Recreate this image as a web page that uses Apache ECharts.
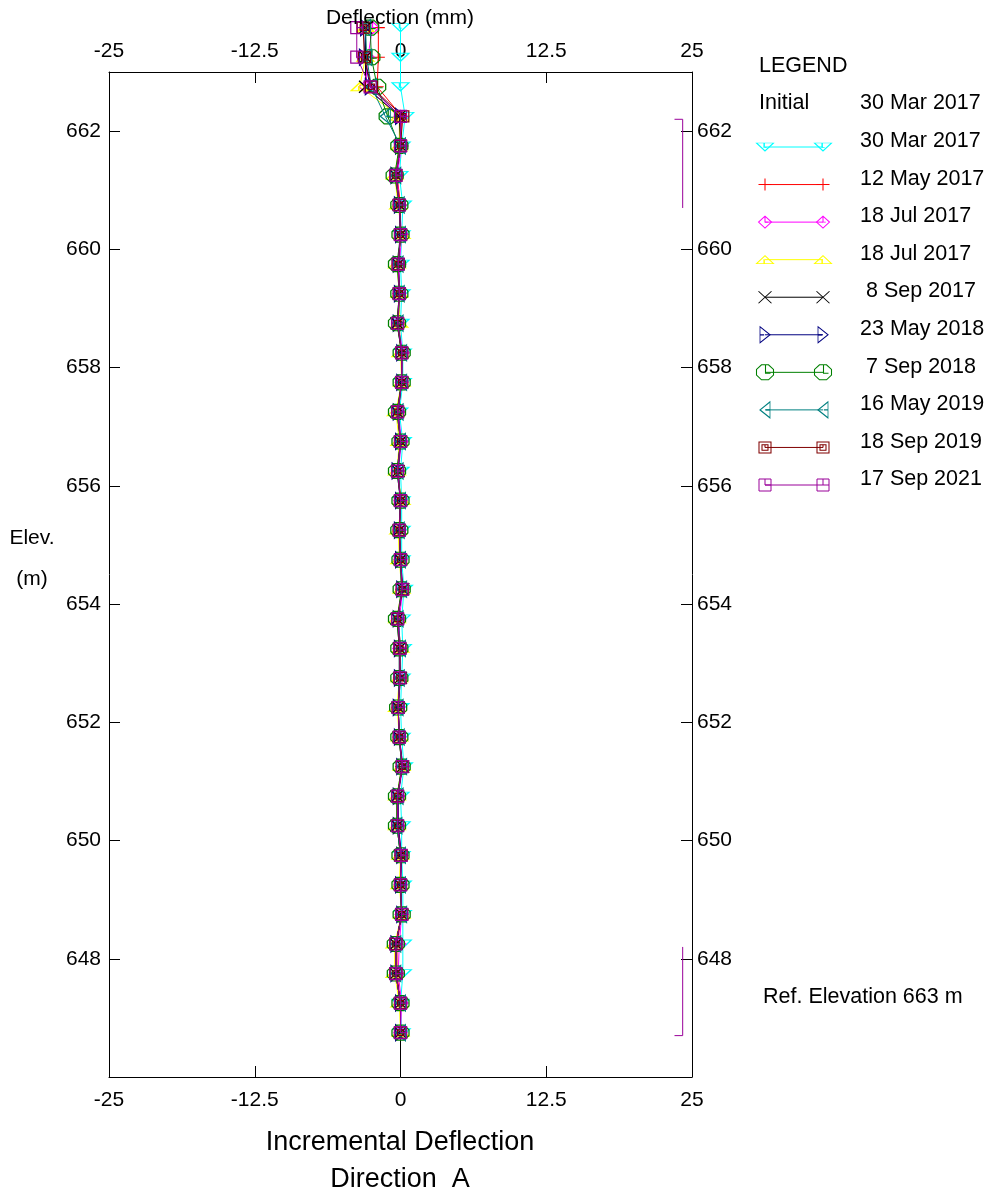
<!DOCTYPE html>
<html>
<head>
<meta charset="utf-8">
<title>Incremental Deflection - Direction A</title>
<script src="https://cdn.jsdelivr.net/npm/echarts@6/dist/echarts.min.js"></script>
<style>
  html, body { margin: 0; padding: 0; background: #fff; }
  #chart { width: 985px; height: 1198px; }
</style>
</head>
<body>
<div id="chart"></div>
<script>
// reading elevations (m), top to bottom
const elevations = [663.75, 663.25, 662.75, 662.25, 661.75, 661.25, 660.75, 660.25, 659.75, 659.25,
  658.75, 658.25, 657.75, 657.25, 656.75, 656.25, 655.75, 655.25, 654.75, 654.25,
  653.75, 653.25, 652.75, 652.25, 651.75, 651.25, 650.75, 650.25, 649.75, 649.25,
  648.75, 648.25, 647.75, 647.25, 646.75];

// incremental deflection (mm) per reading date
const mar2017 = [0, 0, 0, 0.4, 0.1, -0.1, 0.2, 0.1, 0.0, 0.1, 0.0, 0.2, 0.2, -0.1, 0.2, 0.0, 0.1, 0.1, 0.1, 0.3,
  0.1, 0.2, 0.1, 0.0, 0.1, 0.3, 0.0, 0.1, 0.1, 0.2, 0.2, 0.2, 0.2, 0.0, 0.1];
const may2017 = [-1.9, -1.9, -2.0, 0.1, 0.0, -0.3, 0.0, 0.0, -0.2, -0.1, -0.2, 0.1, 0.1, -0.2, 0.0, -0.2, 0.0, -0.1, 0.0, 0.1,
  -0.2, 0.0, -0.1, -0.2, -0.1, 0.1, -0.2, -0.2, 0.0, 0.0, 0.1, -0.3, -0.3, 0.0, 0.0];
const jul2017a = [-2.4, -2.8, -3.0, 0.0, 0.1, -0.3, -0.1, 0.1, -0.1, -0.1, -0.2, 0.2, 0.1, -0.2, 0.1, -0.2, 0.0, -0.1, 0.0, 0.2,
  -0.1, -0.1, 0.0, -0.2, -0.1, 0.2, -0.2, -0.2, 0.1, 0.0, 0.1, -0.1, -0.2, 0.1, 0.0];
const jul2017b = [-3.0, -3.0, -3.5, -0.1, -0.1, -0.5, -0.2, 0.1, -0.3, -0.1, -0.1, 0.0, 0.1, -0.4, -0.1, -0.3, 0.1, -0.2, -0.1, 0.1,
  -0.3, 0.0, -0.1, -0.3, -0.1, 0.1, -0.3, -0.3, 0.0, -0.1, 0.1, -0.5, -0.5, -0.1, 0.0];
const sep2017 = [-3.0, -3.0, -3.0, -0.1, 0.0, -0.4, -0.1, 0.0, -0.2, -0.1, -0.3, 0.1, 0.1, -0.3, 0.0, -0.2, 0.0, -0.1, 0.0, 0.2,
  -0.3, -0.1, 0.0, -0.2, -0.1, 0.2, -0.3, -0.3, 0.0, 0.0, 0.1, -0.4, -0.4, 0.0, 0.0];
const may2018 = [-3.0, -3.1, -2.6, 0.0, 0.0, -0.4, -0.1, 0.0, -0.2, -0.1, -0.2, 0.1, 0.1, -0.2, 0.0, -0.3, 0.0, -0.1, 0.0, 0.1,
  -0.2, -0.1, -0.1, -0.2, -0.1, 0.1, -0.2, -0.2, 0.1, 0.0, 0.1, -0.4, -0.4, 0.0, 0.0];
const sep2018 = [-2.6, -2.5, -2.0, -1.1, -0.1, -0.5, -0.1, 0.0, -0.3, -0.1, -0.3, 0.1, 0.1, -0.3, 0.0, -0.3, 0.0, -0.1, 0.0, 0.1,
  -0.3, -0.1, -0.1, -0.2, -0.1, 0.1, -0.3, -0.3, 0.0, 0.0, 0.1, -0.4, -0.4, 0.0, 0.0];
const may2019 = [-3.0, -2.9, -2.5, -1.3, 0.0, -0.4, -0.1, 0.0, -0.2, -0.1, -0.2, 0.1, 0.1, -0.2, 0.0, -0.2, 0.0, -0.1, 0.0, 0.1,
  -0.2, 0.0, -0.1, -0.2, -0.1, 0.1, -0.2, -0.3, 0.0, 0.0, 0.1, -0.4, -0.4, 0.0, 0.0];
const sep2019 = [-3.2, -3.1, -2.5, 0.2, 0.0, -0.4, -0.1, 0.0, -0.2, -0.1, -0.25, 0.1, 0.1, -0.25, 0.0, -0.25, 0.0, -0.1, 0.0, 0.15,
  -0.25, -0.05, -0.05, -0.2, -0.1, 0.15, -0.25, -0.25, 0.05, 0.0, 0.1, -0.4, -0.4, 0.0, 0.0];
const sep2021 = [-3.75, -3.75, -2.6, 0.0, 0.0, -0.4, -0.1, 0.0, -0.2, -0.1, -0.25, 0.1, 0.1, -0.25, 0.0, -0.25, 0.0, -0.1, 0.0, 0.15,
  -0.25, -0.05, -0.05, -0.2, -0.1, 0.15, -0.25, -0.25, 0.05, 0.0, 0.1, -0.4, -0.4, 0.0, 0.0];

const dateLabels = ['30 Mar 2017', '12 May 2017', '18 Jul 2017', '18 Jul 2017', ' 8 Sep 2017',
  '23 May 2018', ' 7 Sep 2018', '16 May 2019', '18 Sep 2019', '17 Sep 2021'];
const initialDate = '30 Mar 2017';
const xTicks = [-25, -12.5, 0, 12.5, 25];
const elevTicks = [648, 650, 652, 654, 656, 658, 660, 662];

// zone brackets on the right edge [deflection, elevation]
const topBracket = [[23.5, 662.2], [24.2, 662.2], [24.2, 660.7]];
const bottomBracket = [[24.2, 648.2], [24.2, 646.7], [23.5, 646.7]];
const bottomTail = [[0, 646.75], [0, 646]];

const FONT = 'Liberation Sans, Arial, sans-serif';

// marker shapes (open outlines with the small inner mark)
const styles = [
  { values: mar2017, color: '#00ffff', symbol: 'path://M0,0 L20,0 L10,9 Z M9,0 L9,5 L12,5', size: [17, 8] },
  { values: may2017, color: '#ff0000', symbol: 'path://M0,6 L12,6 M6,0 L6,12', size: [13, 12] },
  { values: jul2017a, color: '#ff00ff', symbol: 'path://M0,6 L7,0 L14,6 L7,12 Z M7,0 L7,6 L10,6', size: [13, 12] },
  { values: jul2017b, color: '#ffff00', symbol: 'path://M0,9 L10,0 L20,9 Z M9,4 L9,9', size: [17, 8] },
  { values: sep2017, color: '#000000', symbol: 'path://M0,0 L12,12 M0,12 L12,0', size: [13, 12] },
  { values: may2018, color: '#000080', symbol: 'path://M0,0 L12,7 L0,14 Z M0,7 L5,7', size: [10, 16] },
  { values: sep2018, color: '#008000', symbol: 'path://M5,0 L12,0 L17,5 L17,11 L12,16 L5,16 L0,11 L0,5 Z M9,0 L9,9 L14,9', size: [17, 15] },
  { values: may2019, color: '#008080', symbol: 'path://M12,0 L0,7 L12,14 Z M12,7 L7,7', size: [10, 16] },
  { values: sep2019, color: '#800000', symbol: 'path://M0,0 L12,0 L12,12 L0,12 Z M3,3 L9,3 L9,9 L3,9 Z M6,3 L6,6', size: [12, 11] },
  { values: sep2021, color: '#990099', symbol: 'path://M0,0 L12,0 L12,12 L0,12 Z M6,0 L6,6 L12,6', size: [12, 12] }
];

const chart = echarts.init(document.getElementById('chart'), null, { renderer: 'canvas' });

const axisText = { color: '#000', fontSize: 21, fontFamily: FONT };

function xAxisCfg(pos, margin) {
  return {
    type: 'value', gridIndex: 0, position: pos, min: -25, max: 25, interval: 12.5,
    axisLine: { show: true, onZero: false, lineStyle: { color: '#000', width: 1 } },
    axisTick: { show: true, inside: true, length: 11, lineStyle: { color: '#000' } },
    axisLabel: Object.assign({ margin: margin, formatter: v => (xTicks.indexOf(v) >= 0 ? String(v) : '') }, axisText),
    splitLine: { show: false }
  };
}
function yAxisCfg(pos, margin) {
  return {
    type: 'value', gridIndex: 0, position: pos, min: 646, max: 663, interval: 2,
    axisLine: { show: true, onZero: false, lineStyle: { color: '#000', width: 1 } },
    axisTick: { show: true, inside: true, length: 11, lineStyle: { color: '#000' } },
    axisLabel: Object.assign({ margin: margin, padding: [0, 0, 12, 0],
      formatter: v => (elevTicks.indexOf(v) >= 0 ? String(v) : '') }, axisText),
    splitLine: { show: false }
  };
}

const dataSeries = styles.map((s, i) => ({
  type: 'line',
  name: dateLabels[i].trim(),
  xAxisIndex: 0, yAxisIndex: 0,
  data: s.values.map((v, k) => [v, elevations[k]]),
  symbol: s.symbol,
  symbolSize: s.size,
  showSymbol: true,
  clip: false,
  silent: true,
  z: 3 + i,
  lineStyle: { color: s.color, width: 1 },
  itemStyle: { color: 'rgba(0,0,0,0)', borderColor: s.color, borderWidth: 1.2 }
}));

// legend samples drawn as little two-point series in their own grid
const legendSeries = styles.map((s, i) => ({
  type: 'line',
  name: 'legend' + i,
  xAxisIndex: 2, yAxisIndex: 2,
  data: [[0, i], [1, i]],
  symbol: s.symbol,
  symbolSize: s.size,
  clip: false,
  silent: true,
  lineStyle: { color: s.color, width: 1 },
  itemStyle: { color: 'rgba(0,0,0,0)', borderColor: s.color, borderWidth: 1 }
}));

const helperSeries = [
  { data: topBracket, color: '#990099' },
  { data: bottomBracket, color: '#990099' },
  { data: bottomTail, color: '#000' }
].map(h => ({
  type: 'line', xAxisIndex: 0, yAxisIndex: 0, data: h.data, symbol: 'none', silent: true, clip: false,
  lineStyle: { color: h.color, width: 1 }, z: 2
}));

function txt(text, x, y, align, size) {
  return {
    type: 'text', x: x, y: y, silent: true, z: 20,
    style: { text: text, fill: '#000', font: (size || 21.5) + 'px ' + FONT,
      align: align, verticalAlign: 'middle', textAlign: align, textVerticalAlign: 'middle' }
  };
}

const graphics = [
  txt('Deflection (mm)', 400, 18, 'center', 21),
  txt('LEGEND', 759, 66, 'left'),
  txt('Initial', 759, 103, 'left'),
  txt(initialDate, 860, 103, 'left'),
  txt('Elev.', 32, 538, 'center', 21),
  txt('(m)', 32, 579, 'center', 21),
  txt('Ref. Elevation 663 m', 763, 997, 'left'),
  txt('Incremental Deflection', 400, 1143, 'center', 27),
  txt('Direction  A', 400, 1180, 'center', 27)
].concat(dateLabels.map((d, i) => txt(d, 860, 141 + i * 37.6, 'left')));

const option = {
  backgroundColor: '#fff',
  animation: false,
  textStyle: { fontFamily: FONT },
  grid: [
    { left: 109, right: 293, top: 72, bottom: 121, containLabel: false },
    { left: 765, width: 58, top: 147, height: 338, containLabel: false }
  ],
  xAxis: [
    xAxisCfg('bottom', 13),
    xAxisCfg('top', 10),
    { type: 'value', gridIndex: 1, min: 0, max: 1, show: false }
  ],
  yAxis: [
    yAxisCfg('left', 8),
    yAxisCfg('right', 5),
    { type: 'value', gridIndex: 1, min: 0, max: 9, inverse: true, show: false }
  ],
  series: helperSeries.concat(dataSeries, legendSeries),
  graphic: graphics
};

chart.setOption(option);
</script>
</body>
</html>
